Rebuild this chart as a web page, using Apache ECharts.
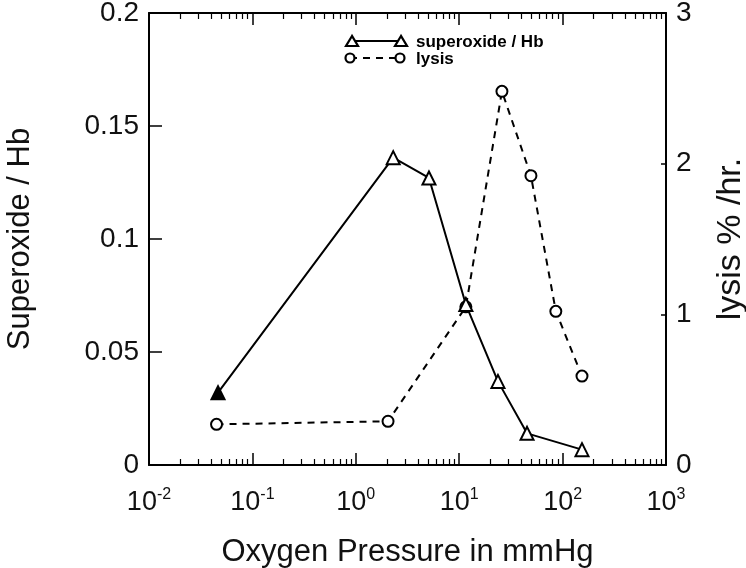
<!DOCTYPE html>
<html>
<head>
<meta charset="utf-8">
<script src="https://cdn.jsdelivr.net/npm/echarts@6/dist/echarts.min.js"></script>
<style>
    html, body { margin: 0; padding: 0; background: #fff; }
    #chart { width: 746px; height: 568px; }
</style>
</head>
<body>
<div id="chart"></div>
<script>
// oxygen pressure (mmHg) and measured values
var superoxidePressure = [0.0465, 2.3, 5.1, 11.6, 23.7, 45.3, 154];
var superoxideValues = [0.032, 0.136, 0.127, 0.071, 0.037, 0.014, 0.0068];
var lysisPressure = [0.045, 2.05, 11.6, 25.9, 49.4, 86, 154];
var lysisValues = [0.27, 0.29, 1.05, 2.48, 1.92, 1.02, 0.59];
var leftTicks = [0, 0.05, 0.1, 0.15, 0.2];
var rightTicks = [0, 1, 2, 3];

var font = 'Liberation Sans, Arial, sans-serif';

function pairs(xs, ys) {
    return xs.map(function (x, i) { return [x, ys[i]]; });
}

var myChart = echarts.init(document.getElementById('chart'));

var tickLabel = {
    fontFamily: font,
    fontSize: 27,
    color: '#111',
    margin: 22,
    formatter: function (v) {
        var e = Math.round(Math.log(v) / Math.LN10);
        return '{b|10}{s|' + e + '}';
    },
    rich: {
        b: { fontFamily: font, fontSize: 27, color: '#111' },
        s: { fontFamily: font, fontSize: 16, color: '#111', verticalAlign: 'top', padding: [0, 0, 15, 0] }
    }
};

// bottom and top log axes share the same look
function logAxis(pos, showLabel) {
    return {
        type: 'log',
        position: pos,
        min: 0.01,
        max: 1000,
        logBase: 10,
        axisLine: { onZero: false, lineStyle: { color: '#000', width: 2 } },
        axisTick: { inside: true, length: 12, lineStyle: { color: '#000', width: 1.5 } },
        minorTick: { show: true, splitNumber: 9, length: 6, lineStyle: { color: '#000', width: 1.2 } },
        axisLabel: showLabel ? tickLabel : { show: false },
        splitLine: { show: false }
    };
}

var bottomAxis = logAxis('bottom', true);
bottomAxis.name = 'Oxygen Pressure in mmHg';
bottomAxis.nameLocation = 'middle';
bottomAxis.nameGap = 72;
bottomAxis.nameTextStyle = { fontFamily: font, fontSize: 31, color: '#111' };

var option = {
    backgroundColor: '#fff',
    animation: false,
    grid: { left: 149, right: 80, top: 13, bottom: 103, outerBoundsMode: 'none' },
    xAxis: [bottomAxis, logAxis('top', false)],
    yAxis: [{
        type: 'value',
        min: leftTicks[0],
        max: leftTicks[leftTicks.length - 1],
        interval: 0.05,
        name: 'Superoxide / Hb',
        nameLocation: 'middle',
        nameGap: 113,
        nameTextStyle: { fontFamily: font, fontSize: 31, color: '#111' },
        axisLine: { show: true, onZero: false, lineStyle: { color: '#000', width: 2 } },
        axisTick: { show: true, inside: true, length: 13, lineStyle: { color: '#000', width: 1.5 } },
        axisLabel: { fontFamily: font, fontSize: 28, color: '#111', margin: 10 },
        splitLine: { show: false }
    }, {
        type: 'value',
        position: 'right',
        min: rightTicks[0],
        max: rightTicks[rightTicks.length - 1],
        interval: 1,
        name: 'lysis % /hr.',
        nameLocation: 'middle',
        nameGap: 48,
        nameRotate: 90,
        nameTextStyle: { fontFamily: font, fontSize: 34, color: '#111' },
        axisLine: { show: true, onZero: false, lineStyle: { color: '#000', width: 2 } },
        axisTick: { show: true, inside: true, length: 5, lineStyle: { color: '#000', width: 1.5 } },
        axisLabel: { fontFamily: font, fontSize: 28, color: '#111', margin: 10 },
        splitLine: { show: false }
    }],
    graphic: [
        // legend, drawn by hand to show a marker at each end
        { type: 'line', shape: { x1: 352, y1: 41, x2: 401, y2: 41 }, style: { stroke: '#000', lineWidth: 2 } },
        { type: 'polygon', shape: { points: [[352, 36], [346, 46], [358, 46]] }, style: { fill: '#fff', stroke: '#000', lineWidth: 2.2 } },
        { type: 'polygon', shape: { points: [[401, 36], [395, 46], [407, 46]] }, style: { fill: '#fff', stroke: '#000', lineWidth: 2.2 } },
        { type: 'text', x: 416, y: 42, style: { text: 'superoxide / Hb', fontFamily: font, fontWeight: 'bold', fontSize: 17, fill: '#000', verticalAlign: 'middle' } },
        { type: 'line', shape: { x1: 350, y1: 58, x2: 400, y2: 58 }, style: { stroke: '#000', lineWidth: 2, lineDash: [7, 6] } },
        { type: 'circle', shape: { cx: 350, cy: 58, r: 4.5 }, style: { fill: '#fff', stroke: '#000', lineWidth: 2.2 } },
        { type: 'circle', shape: { cx: 400, cy: 58, r: 4.5 }, style: { fill: '#fff', stroke: '#000', lineWidth: 2.2 } },
        { type: 'text', x: 416, y: 59, style: { text: 'lysis', fontFamily: font, fontWeight: 'bold', fontSize: 17, fill: '#000', verticalAlign: 'middle' } }
    ],
    series: [{
        name: 'superoxide / Hb',
        type: 'line',
        xAxisIndex: 0,
        yAxisIndex: 0,
        data: pairs(superoxidePressure, superoxideValues).map(function (p, i) {
            return i === 0 ? { value: p, itemStyle: { color: '#000' } } : p;
        }),
        symbol: 'triangle',
        symbolSize: 13,
        lineStyle: { color: '#000', width: 2 },
        itemStyle: { color: '#fff', borderColor: '#000', borderWidth: 2 },
        z: 3
    }, {
        name: 'lysis',
        type: 'line',
        xAxisIndex: 1,
        yAxisIndex: 1,
        data: pairs(lysisPressure, lysisValues),
        symbol: 'circle',
        symbolSize: 11,
        lineStyle: { color: '#000', width: 2, type: [7, 6] },
        itemStyle: { color: '#fff', borderColor: '#000', borderWidth: 2 },
        z: 2
    }]
};

myChart.setOption(option);
</script>
</body>
</html>
